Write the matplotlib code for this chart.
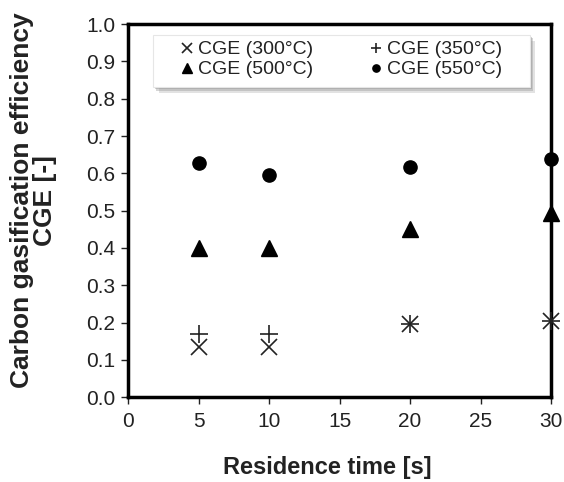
import matplotlib
matplotlib.use("Agg")
import matplotlib.pyplot as plt
from matplotlib.patches import Rectangle

plt.rcParams['font.family'] = ['Liberation Sans', 'DejaVu Sans']

time_s = [5, 10, 20, 30]
cge_300 = [0.135, 0.135, 0.197, 0.204]
cge_350 = [0.168, 0.170, 0.195, 0.204]
cge_500 = [0.400, 0.400, 0.450, 0.493]
cge_550 = [0.627, 0.595, 0.616, 0.638]
labels = ['CGE (300\u00b0C)', 'CGE (350\u00b0C)', 'CGE (500\u00b0C)', 'CGE (550\u00b0C)']
xticks = [0, 5, 10, 15, 20, 25, 30]
yticks = [0.0, 0.1, 0.2, 0.3, 0.4, 0.5, 0.6, 0.7, 0.8, 0.9, 1.0]

fig = plt.figure(figsize=(5.64, 4.82), dpi=100)
ax = fig.add_axes([0.227, 0.176, 0.750, 0.774])

h300, = ax.plot(time_s, cge_300, linestyle='none', marker='x', color='#222222', markersize=12, mew=1.2, label=labels[0], clip_on=False, zorder=3)
h350, = ax.plot(time_s, cge_350, linestyle='none', marker='+', color='#222222', markersize=12.5, mew=1.2, label=labels[1], clip_on=False, zorder=3)
h500, = ax.plot(time_s, cge_500, linestyle='none', marker='^', color='black', markersize=12, label=labels[2], clip_on=False, zorder=3)
h550, = ax.plot(time_s, cge_550, linestyle='none', marker='o', color='black', markersize=9.5, label=labels[3], clip_on=False, zorder=3)

ax.set_xlim(0, 30)
ax.set_ylim(0, 1.0)
ax.set_xticks(xticks)
ax.set_yticks(yticks)
ax.set_yticklabels([f'{v:.1f}' for v in yticks])
for s in ax.spines.values():
    s.set_linewidth(2.5)
ax.tick_params(axis='both', direction='out', length=5, width=1, labelsize=15, colors='#222222')
ax.tick_params(axis='x', pad=6)
ax.tick_params(axis='y', pad=4)

ax.set_xlabel('Residence time [s]', fontsize=17, fontweight='bold', color='#222222')
ax.xaxis.set_label_coords(0.470, -0.158)
ax.set_ylabel('Carbon gasification efficiency\nCGE [-]', fontsize=19, fontweight='bold',
              color='#222222', linespacing=0.92)
ax.yaxis.set_label_coords(-0.168, 0.528)

# legend box with shadow
x0, y0, x1, y1 = 0.059, 0.831, 0.950, 0.971
dx, dy = 3.5 / 423, 3.5 / 373
for k, a in [(1.6, 0.25), (1.0, 0.35), (0.5, 0.4)]:
    ax.add_patch(Rectangle((x0 + dx * k, y0 - dy * k), x1 - x0, y1 - y0, transform=ax.transAxes,
                           facecolor='#8c8c8c', edgecolor='none', alpha=a, zorder=3.9))
box = Rectangle((x0, y0), x1 - x0, y1 - y0, transform=ax.transAxes, facecolor='white',
                edgecolor='#e6e6e6', linewidth=0.8, zorder=4)
ax.add_patch(box)

leg = ax.legend([h300, h500, h350, h550], [labels[0], labels[2], labels[1], labels[3]],
                ncol=2, loc='center', bbox_to_anchor=((x0 + x1) / 2 + 0.002, (y0 + y1) / 2 + 0.004),
                fontsize=14, markerscale=0.55, handlelength=0.5, handletextpad=0.3,
                columnspacing=3.0, frameon=False, borderpad=0.2, labelspacing=0.12)
leg.set_zorder(5)
for t in leg.get_texts():
    t.set_color('#222222')

fig.savefig('out.png', dpi=100)
